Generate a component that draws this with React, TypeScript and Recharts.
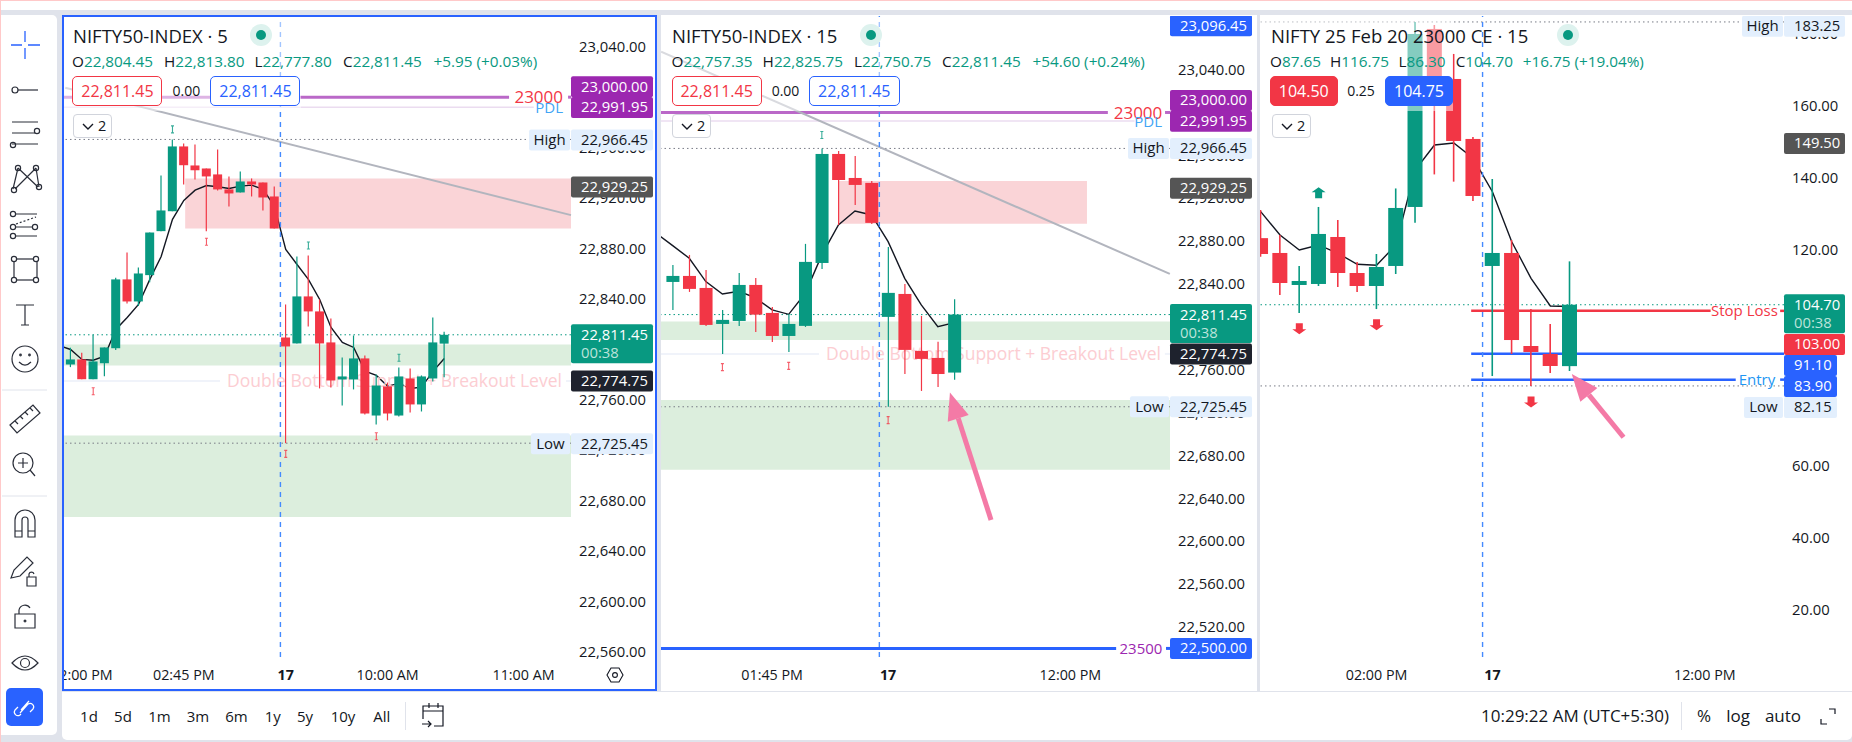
import React from "react";
import {
  ComposedChart,
  Bar,
  Line,
  XAxis,
  YAxis,
  ReferenceLine,
  ReferenceArea,
  ReferenceDot,
} from "recharts";

const FONT = '"Open Sans", sans-serif';
const UP = "#089981";
const DOWN = "#F23645";
const INK = "#131722";
const BLUE = "#2962FF";

// 5 min index chart
const idxOpen5 = [22787.9, 22791.9, 22776.2, 22788.9, 22800.8, 22855.4, 22837.9, 22858.8, 22893.7, 22909.5, 22960.9, 22945.8, 22943.4, 22938.7, 22926.8, 22924.4, 22933.1, 22932.3, 22921.2, 22809.3, 22804.6, 22841.9, 22830, 22805.4, 22776, 22776, 22792.7, 22747.4, 22770.5, 22747.4, 22776.8, 22756.2, 22776.8, 22804.45];
const idxHigh5 = [22801.2, 22797.2, 22811.5, 22801.4, 22856.7, 22876.8, 22864.9, 22892.6, 22937.9, 22966.45, 22963.2, 22962.5, 22943.4, 22958.5, 22937.1, 22941, 22935.5, 22932.3, 22929.1, 22835.5, 22873.6, 22874.4, 22839.5, 22824.4, 22793.5, 22810.9, 22795.1, 22780, 22773.6, 22785.5, 22784.7, 22779.2, 22825.2, 22813.8];
const idxLow5 = [22785.8, 22776.2, 22776.2, 22778.6, 22799.3, 22836.3, 22834.2, 22853.2, 22893.7, 22909.5, 22930.7, 22934.7, 22893.7, 22926, 22913.3, 22924.4, 22921.2, 22910.1, 22895.8, 22725.45, 22804.6, 22818.1, 22768.9, 22769.7, 22755.4, 22768.1, 22748.2, 22740.3, 22743.5, 22746.6, 22749.8, 22750.6, 22774.4, 22777.8];
const idxClose5 = [22791.9, 22776.2, 22790.3, 22801.4, 22855.4, 22837.9, 22860.1, 22892.6, 22910.1, 22960.9, 22946, 22942, 22937.1, 22926.8, 22923.6, 22933.1, 22930.7, 22920.4, 22895.8, 22802.2, 22841.9, 22830, 22804.6, 22775.2, 22778.4, 22792.7, 22749, 22771.2, 22749, 22778.4, 22756.2, 22778.4, 22805.4, 22811.45];
const idxEma5 = [22799.8, 22791.9, 22791.3, 22794.5, 22815.7, 22825.2, 22835.5, 22855.4, 22873.6, 22903, 22918, 22926.2, 22929.9, 22928.9, 22927.5, 22929.4, 22930.2, 22926.8, 22913.5, 22879.2, 22867.2, 22855.4, 22839.5, 22817.3, 22805.4, 22801.4, 22782.6, 22779.2, 22770.7, 22772.8, 22768.9, 22769.9, 22782.4, 22792.7];
const idxEmaLead5 = 22803;
const idxHighMarks5 = [[9, 22974.4], [21, 22882.3], [29, 22793.2]];
const idxLowMarks5 = [[2, 22766.7], [12, 22885.3], [19, 22717], [27, 22731]];

// 15 min index chart
const idxOpen15 = [22841.9, 22847.5, 22836.3, 22802.7, 22805.5, 22839.1, 22813, 22791.5, 22800.9, 22859.6, 22961.3, 22938.9, 22934.3, 22809.3, 22830.7, 22777.5, 22771, 22757.35];
const idxHigh15 = [22857.8, 22867.1, 22853.1, 22815.8, 22850.3, 22845.6, 22818.6, 22812.1, 22877.4, 22966.45, 22964.1, 22959.5, 22936.1, 22874.6, 22840, 22810.2, 22786, 22825.75];
const idxLow15 = [22815.8, 22832.6, 22800.9, 22774.7, 22800.9, 22795.3, 22785.9, 22776.6, 22799.9, 22854, 22895.1, 22913.7, 22896, 22725.45, 22756, 22740.2, 22744, 22750.75];
const idxClose15 = [22847.5, 22835.4, 22801.8, 22806.5, 22839.1, 22811.4, 22791.5, 22802.7, 22860.6, 22961.3, 22937, 22932.4, 22897, 22831.7, 22778.5, 22770.1, 22756, 22811.45];
const idxEma15 = [22875.8, 22864, 22842.2, 22830.7, 22833.2, 22827, 22815.8, 22811.7, 22831.3, 22867.1, 22895.1, 22908.1, 22904.4, 22879.5, 22845.3, 22820.5, 22800.2, 22804];
const idxEmaLead15 = 22887.3;
const idxHighMarks15 = [[9, 22979]];
const idxLowMarks15 = [[3, 22762.4], [7, 22763.6], [13, 22713]];

// 15 min option chart
const optOpen = [123.2, 119.08, 110.19, 110.47, 123.52, 113.52, 109.91, 115.47, 131.86, 181.3, 167.41, 150.75, 115.47, 119.08, 93.24, 91.02, 87.65];
const optHigh = [131, 124.08, 115.47, 131.86, 128.24, 116.58, 118.8, 137, 183.25, 182.4, 174.36, 151.3, 139.63, 122.69, 103.52, 99.36, 116.75];
const optLow = [118, 107.4, 102.4, 109.91, 109.63, 108.24, 103.5, 113.24, 127.5, 140.9, 138.89, 133.5, 84.9, 91.02, 82.15, 85.74, 86.3];
const optClose = [118.8, 110.74, 111.3, 124.36, 113.52, 109.91, 115.19, 131.58, 179.91, 161.6, 150.19, 134.91, 119.08, 94.9, 91.58, 87.69, 104.7];
const optEma = [130.56, 124.08, 119.91, 121.3, 118.99, 115.93, 115.65, 121.3, 142.1, 149.08, 149.64, 145.37, 136.1, 122.2, 112.04, 104.36, 104.2];
const optUpArrows = [[3, 135.7]];
const optDownArrows = [[2, 98.2], [6, 99.3], [14, 77.8]];

const ticks5 = [22560, 22600, 22640, 22680, 22720, 22760, 22800, 22840, 22880, 22920, 22960, 23000, 23040];
const ticks15 = [22520, 22560, 22600, 22640, 22680, 22720, 22760, 22800, 22840, 22880, 22920, 22960, 23000, 23040];
const ticksOpt = [20, 40, 60, 80, 100, 120, 140, 160, 180];

const timeTicks5 = { 1: "02:00 PM", 10: "02:45 PM", 19: "17", 28: "10:00 AM", 40: "11:00 AM" };
const timeTicks15 = { 6: "01:45 PM", 13: "17", 24: "12:00 PM" };
const timeTicksOpt = { 6: "02:00 PM", 12: "17", 23: "12:00 PM" };

const rangeButtons = ["1d", "5d", "1m", "3m", "6m", "1y", "5y", "10y", "All"];

const buildRows = (o, h, l, c, ema, lead, hiMarks, loMarks) => {
  const rows: any[] = [];
  if (lead != null) rows.push({ i: -1, ema: lead });
  o.forEach((_, i) => {
    const hi = hiMarks.find((m) => m[0] === i);
    const lo = loMarks.find((m) => m[0] === i);
    rows.push({
      i,
      open: o[i],
      high: h[i],
      low: l[i],
      close: c[i],
      ema: ema[i],
      markHi: hi ? hi[1] : null,
      markLo: lo ? lo[1] : null,
    });
  });
  return rows;
};

const rows5 = buildRows(idxOpen5, idxHigh5, idxLow5, idxClose5, idxEma5, idxEmaLead5, idxHighMarks5, idxLowMarks5);
const rows15 = buildRows(idxOpen15, idxHigh15, idxLow15, idxClose15, idxEma15, idxEmaLead15, idxHighMarks15, idxLowMarks15);
const rowsOpt = buildRows(optOpen, optHigh, optLow, optClose, optEma, null, optUpArrows, optDownArrows);

const price = (v: number) =>
  v.toLocaleString("en-US", { minimumFractionDigits: 2, maximumFractionDigits: 2 });

const Candle = (props: any) => {
  const { x, y, width, height, payload, wick } = props;
  if (payload.low == null) return null;
  const h = Math.abs(height);
  const k = h / (payload.high - payload.low);
  const top = y + (payload.high - Math.max(payload.open, payload.close)) * k;
  const bottom = y + (payload.high - Math.min(payload.open, payload.close)) * k;
  const up = payload.close >= payload.open;
  const color = up ? UP : DOWN;
  const cx = x + width / 2;
  return (
    <g>
      <line x1={cx} x2={cx} y1={y} y2={y + h} stroke={color} strokeWidth={wick} />
      <rect x={x} y={top} width={width} height={Math.max(bottom - top, 1)} fill={color} />
    </g>
  );
};

const IMark = (color: string) => (p: any) => {
  if (p.value == null || p.cy == null) return <g key={p.index} />;
  return (
    <path
      key={p.index}
      d={`M${p.cx - 1.5} ${p.cy - 3.5}h3M${p.cx} ${p.cy - 3.5}v7M${p.cx - 1.5} ${p.cy + 3.5}h3`}
      stroke={color}
      strokeWidth={1.1}
      fill="none"
      opacity={0.8}
    />
  );
};

const ArrowMark = (color: string, up: boolean) => (p: any) => {
  if (p.value == null || p.cy == null) return <g key={p.index} />;
  const s = up ? -1 : 1;
  const { cx, cy } = p;
  return (
    <path
      key={p.index}
      d={`M${cx - 3.5} ${cy - 5 * s}h7v${6 * s}h3.5l-7 ${5 * s}l-7 ${-5 * s}h3.5z`}
      fill={color}
    />
  );
};

const PinkArrow = (p: any) => {
  const { x1, y1, x2, y2 } = p;
  const d = Math.hypot(x2 - x1, y2 - y1);
  const ux = (x2 - x1) / d;
  const uy = (y2 - y1) / d;
  const bx = x2 - ux * 27;
  const by = y2 - uy * 27;
  return (
    <g>
      <line x1={x1} y1={y1} x2={bx} y2={by} stroke="#F47AA6" strokeWidth={5} />
      <path
        d={`M${x2} ${y2}L${bx - uy * 11} ${by + ux * 11}L${bx + uy * 11} ${by - ux * 11}Z`}
        fill="#F47AA6"
      />
    </g>
  );
};

const badge = (o: any) => (p: any) => {
  const vb = p.viewBox;
  const bx = vb.x + vb.width;
  const h = o.h ?? 21;
  const y = vb.y;
  const w = o.w ?? 82;
  return (
    <g>
      {o.tag && (
        <g>
          <rect x={bx - o.tagW - 1} y={y - h / 2} width={o.tagW} height={h} rx={2} fill="#E3EFFD" />
          <text x={bx - 1 - o.tagW / 2} y={y + 5} textAnchor="middle" fontSize={15} fill={INK}>
            {o.tag}
          </text>
        </g>
      )}
      <rect x={bx} y={y - h / 2} width={w} height={o.sub ? 39 : h} rx={2} fill={o.bg} />
      <text x={bx + 10} y={y + 5} fontSize={14.8} fill={o.fg ?? "#fff"}>
        {o.text}
      </text>
      {o.sub && (
        <text x={bx + 10} y={y + 23} fontSize={14.8} fill="#BCE3DB">
          {o.sub}
        </text>
      )}
    </g>
  );
};

const XTick = (labels: any) => (p: any) => {
  const label = labels[p.payload.value];
  return (
    <text
      x={p.x}
      y={p.y}
      dy={15}
      textAnchor="middle"
      fontSize={14.3}
      fontWeight={label === "17" ? 700 : 400}
      fill={INK}
    >
      {label}
    </text>
  );
};

const levelSeg = (key: string, a: number, b: number, v: number, stroke: string, w: number) => (
  <ReferenceLine
    key={key}
    segment={[{ x: a, y: v }, { x: b, y: v }]}
    stroke={stroke}
    strokeWidth={w}
    ifOverflow="visible"
  />
);

const tag = (key: string, x: number, y: number, text: string, fill: string, size: number) => (
  <ReferenceDot
    key={key}
    x={x}
    y={y}
    r={0}
    fill="none"
    stroke="none"
    ifOverflow="visible"
    label={{ value: text, position: "center", fill, fontSize: size }}
  />
);

const dotted = (key: string, v: number, stroke: string) => (
  <ReferenceLine key={key} y={v} stroke={stroke} strokeDasharray="1.5 3" strokeWidth={1} ifOverflow="visible" />
);

const badgeAt = (key: string, v: number, o: any) => (
  <ReferenceLine key={key} y={v} stroke="none" ifOverflow="visible" label={badge(o)} />
);

// two stacked charts on the same scales: axes, zones and EMA below; candles, marks and price badges above,
// because recharts paints axis ticks over anything in the same chart and the badges must hide them
function Pane(props: any) {
  const { left, top, width, height, axisW, xDomain, yDomain, yTicks, timeTicks, rows, barW, wick, under, over, hiMark, loMark } = props;
  const xTicks = Object.keys(timeTicks).map(Number);
  return (
    <div style={{ position: "absolute", left, top, width, height }}>
      <div style={{ position: "absolute", left: 0, top: 0 }}>
        <ComposedChart
          width={width}
          height={height}
          data={rows}
          margin={{ top: 0, right: 0, bottom: 0, left: 0 }}
          style={{ fontFamily: FONT }}
        >
          <XAxis
            dataKey="i"
            type="number"
            domain={xDomain}
            allowDataOverflow
            ticks={xTicks}
            interval={0}
            height={33}
            axisLine={false}
            tickLine={false}
            tick={XTick(timeTicks)}
          />
          <YAxis
            orientation="right"
            width={axisW}
            type="number"
            domain={yDomain}
            allowDataOverflow
            ticks={yTicks}
            interval={0}
            axisLine={false}
            tickLine={false}
            tickMargin={2}
            tickFormatter={price}
            tick={{ fill: INK, fontSize: 14.8 }}
          />
          {under}
          <Line dataKey="ema" stroke="#131722" strokeWidth={1.4} dot={false} activeDot={false} isAnimationActive={false} />
        </ComposedChart>
      </div>
      <div style={{ position: "absolute", left: 0, top: 0 }}>
        <ComposedChart
          width={width}
          height={height}
          data={rows}
          margin={{ top: 0, right: axisW, bottom: 33, left: 0 }}
          style={{ fontFamily: FONT }}
        >
          <XAxis dataKey="i" type="number" domain={xDomain} allowDataOverflow ticks={xTicks} interval={0} hide />
          <YAxis type="number" domain={yDomain} allowDataOverflow ticks={yTicks} interval={0} hide />
          <Bar
            dataKey={(r: any) => (r.low == null ? null : [r.low, r.high])}
            barSize={barW}
            isAnimationActive={false}
            shape={(p: any) => <Candle {...p} wick={wick} />}
          />
          <Line dataKey="markHi" stroke="none" dot={hiMark} activeDot={false} isAnimationActive={false} />
          <Line dataKey="markLo" stroke="none" dot={loMark} activeDot={false} isAnimationActive={false} />
          {over}
        </ComposedChart>
      </div>
    </div>
  );
}

const at = (left: number, top: number, style: any = {}) => ({ position: "absolute", left, top, whiteSpace: "nowrap", ...style } as any);

function Header(props: any) {
  const { title, titleX, dotX, ohlc, delta, red, mid, midX, blue, solid, countX, veil } = props;
  const row = 51;
  return (
    <>
      <div style={at(veil[0], 17, { width: veil[1] - veil[0], height: 94, background: "rgba(255,255,255,0.5)" })} />
      <div style={at(titleX, 22, { fontSize: 18.5, color: INK, lineHeight: "28px" })}>{title}</div>
      <div style={at(dotX - 11, 24, { width: 22, height: 22, borderRadius: 11, background: "#DDF2EE" })} />
      <div style={at(dotX - 5, 30, { width: 10, height: 10, borderRadius: 5, background: UP })} />
      {ohlc.map((o: any) => (
        <div key={o[0]} style={at(o[2], row, { fontSize: 15.3, lineHeight: "20px", color: INK })}>
          {o[0]}
          <span style={{ color: UP }}>{o[1]}</span>
        </div>
      ))}
      <div style={at(delta[1], row, { fontSize: 15.3, lineHeight: "20px", color: UP })}>{delta[0]}</div>
      <div
        style={at(red[1], 76, {
          width: red[2] - red[1], height: 30, boxSizing: "border-box", borderRadius: 5,
          border: `1px solid ${DOWN}`, background: solid ? DOWN : "#fff", color: solid ? "#fff" : DOWN,
          textAlign: "center", lineHeight: "28px", fontSize: 16,
        })}
      >
        {red[0]}
      </div>
      <div style={at(midX - 25, 76, { width: 50, textAlign: "center", lineHeight: "30px", fontSize: 14, color: INK })}>{mid}</div>
      <div
        style={at(blue[1], 76, {
          width: blue[2] - blue[1], height: 30, boxSizing: "border-box", borderRadius: 5,
          border: `1px solid ${BLUE}`, background: solid ? BLUE : "#fff", color: solid ? "#fff" : BLUE,
          textAlign: "center", lineHeight: "28px", fontSize: 16,
        })}
      >
        {blue[0]}
      </div>
      <div
        style={at(countX, 114, {
          width: 39, height: 24, boxSizing: "border-box", borderRadius: 4, border: "1px solid #D1D4DC",
          background: "#fff", fontSize: 14.5, lineHeight: "22px", color: INK,
        })}
      >
        <svg width="12" height="8" style={{ position: "absolute", left: 8, top: 8 }}>
          <path d="M1 1l5 5l5-5" stroke={INK} fill="none" strokeWidth="1.4" />
        </svg>
        <span style={{ position: "absolute", left: 24 }}>2</span>
      </div>
    </>
  );
}

const ic = { stroke: "#2A2E39", strokeWidth: 1.2, fill: "none" };

function Toolbar() {
  return (
    <div style={at(0, 15, { width: 57, height: 720, background: "#fff", borderRadius: "0 5px 5px 0" })}>
      <svg width="57" height="720" style={{ position: "absolute", left: 0, top: 0 }}>
        <g transform="translate(0,-15)">
          <path d="M25 31v11M25 48v11M11 45h11M28 45h12" stroke={BLUE} strokeWidth="1.3" />
          <g {...ic}>
            <circle cx="15" cy="90" r="3" />
            <path d="M18 90h20" />
            <path d="M12 122h26M12 133h23M12 144h26M15 155" />
            <circle cx="37" cy="131" r="2.6" />
            <circle cx="13" cy="145" r="2.6" />
            <path d="M18 168l-5 21M18 168l20 19M36 168l-21 21M36 168l3 19" />
            <circle cx="18" cy="168" r="2.6" />
            <circle cx="36" cy="168" r="2.6" />
            <circle cx="14" cy="190" r="2.6" />
            <circle cx="39" cy="187" r="2.6" />
            <circle cx="13" cy="214" r="2.6" />
            <circle cx="13" cy="227" r="2.6" />
            <circle cx="13" cy="236" r="2.6" />
            <circle cx="35" cy="227" r="2.6" />
            <path d="M16 214h21M16 227h16M16 236h21" />
            <path d="M16 224l20-7" strokeDasharray="2 2" />
            <rect x="14" y="259" width="23" height="21" />
            <circle cx="14" cy="259" r="2.6" fill="#fff" />
            <circle cx="36" cy="259" r="2.6" fill="#fff" />
            <circle cx="14" cy="280" r="2.6" fill="#fff" />
            <circle cx="36" cy="280" r="2.6" fill="#fff" />
            <path d="M16 305h18M25 305v20M21 325h8" />
            <circle cx="25" cy="359" r="13" />
            <path d="M19 362q6 6 12 0" />
            <circle cx="20.5" cy="355" r="0.8" />
            <circle cx="29.5" cy="355" r="0.8" />
            <path d="M10 425l23-20l7 8l-23 20zM15 421l3 3M20 416l3 3M25 412l3 3M30 408l3 3" />
            <circle cx="23" cy="463" r="10" />
            <path d="M23 458v10M18 463h10M30 470l5 6" />
            <path d="M15 537v-17a10 10 0 0 1 20 0v17h-7v-17a3 3 0 0 0-6 0v17zM15 531h7M28 531h7" />
            <path d="M11 578l3-8l13-13l6 6l-13 13zM27 577h9v9h-9zM29 577v-3a2.6 2.6 0 0 1 5 0" />
            <path d="M15 614h20v14h-20zM19 614v-4a6 6 0 0 1 11-2" />
            <circle cx="25" cy="621" r="0.9" />
            <path d="M12 663q13-14 26 0q-13 14-26 0z" />
            <circle cx="25" cy="663" r="4.5" />
          </g>
          <path d="M2 390h45M2 496h45" stroke="#E0E3EB" />
          <rect x="6" y="688" width="37" height="38" rx="5" fill={BLUE} />
          <path d="M20 713l8-9a3.6 3.6 0 0 1 5 5l-3 3M29 701l-8 9" stroke="#fff" strokeWidth="1.2" fill="none" />
          <path d="M18 707l-3 3a3.6 3.6 0 0 0 5 5l1-1" stroke="#fff" strokeWidth="1.2" fill="none" />
        </g>
      </svg>
    </div>
  );
}

function BottomBar() {
  const xs = [89, 123, 159.5, 198, 236.5, 272.7, 305, 343, 381.7];
  const txt = { fontSize: 15, color: INK, lineHeight: "20px" };
  const big = { fontSize: 17, color: INK, lineHeight: "20px" };
  return (
    <>
      <div style={at(62, 692, { width: 1790, height: 48, background: "#fff", borderRadius: "0 0 5px 5px" })} />
      {rangeButtons.map((b, i) => (
        <div key={b} style={at(xs[i] - 20, 706, { ...txt, width: 40, textAlign: "center" })}>
          {b}
        </div>
      ))}
      <div style={at(405, 702, { width: 1, height: 28, background: "#E0E3EB" })} />
      <svg width="30" height="30" style={at(420, 701)}>
        <path d="M3 18v-13h20v20h-9M3 10h20M9 2v5M18 2v5M2 23h9M8 20l3 3l-3 3" stroke={INK} fill="none" strokeWidth="1.2" />
      </svg>
      <div style={at(1575 - 110, 706, { ...big, width: 220, textAlign: "center" })}>10:29:22 AM (UTC+5:30)</div>
      <div style={at(1681, 702, { width: 1, height: 28, background: "#E0E3EB" })} />
      <div style={at(1689, 706, { ...big, width: 30, textAlign: "center" })}>%</div>
      <div style={at(1723, 706, { ...big, width: 30, textAlign: "center" })}>log</div>
      <div style={at(1763, 706, { ...big, width: 40, textAlign: "center" })}>auto</div>
      <svg width="20" height="20" style={at(1817, 706)}>
        <path d="M4 13v5h6M12 3h6v5" stroke={INK} fill="none" strokeWidth="1.2" />
      </svg>
    </>
  );
}

const doubleBottom = "Double Bottom Support + Breakout Level";

export default function App() {
  const x5 = [-0.58, 44.19];
  const x15 = [-0.706, 30.01];
  const xOpt = [-0.036, 27.1];

  const under5 = [
    <ReferenceArea key="a" x1={10.12} x2={44.19} y1={22935.5} y2={22895.8} fill="#FAD4D7" fillOpacity={1} stroke="none" ifOverflow="visible" />,
    <ReferenceArea key="b" x1={-0.58} x2={44.19} y1={22803.8} y2={22787.1} fill="#DCEEDD" fillOpacity={1} stroke="none" ifOverflow="visible" />,
    <ReferenceArea key="c" x1={-0.58} x2={44.19} y1={22731.6} y2={22666.8} fill="#DCEEDD" fillOpacity={1} stroke="none" ifOverflow="visible" />,
    levelSeg("d", -0.58, 38.72, 23000, "#BA68C8", 3),
    levelSeg("e", 43.93, 44.19, 23000, "#BA68C8", 3),
    levelSeg("f", -0.58, 40.9, 22991.95, "#EBDCF0", 1.5),
    levelSeg("g", -0.58, 13.2, 22774.75, "#F0F3FA", 2),
    levelSeg("h", 43.75, 44.19, 22774.75, "#F0F3FA", 2),
    tag("i", 28.6, 22774.75, doubleBottom, "#FCCDD2", 17.5),
    dotted("j", 22966.45, "#787B86"),
    dotted("k", 22725.45, "#787B86"),
    dotted("l", 22811.45, UP),
    <ReferenceLine key="m" segment={[{ x: -0.47, y: 23007.4 }, { x: 44.19, y: 22906.4 }]} stroke="#B2B5BE" strokeWidth={2} ifOverflow="visible" />,
  ];
  const over5 = [
    <ReferenceLine key="n" x={18.53} stroke="#448AFF" strokeWidth={1.4} strokeDasharray="5 5" ifOverflow="visible" />,
    tag("o", 41.34, 23000, "23000", DOWN, 17),
    tag("p", 42.26, 22991.6, "PDL", "#42A5F5", 15),
    badgeAt("q", 23008.2, { text: "23,000.00", bg: "#9C27B0" }),
    badgeAt("r", 22991.8, { text: "22,991.95", bg: "#9C27B0" }),
    badgeAt("s", 22966.0, { text: "22,966.45", bg: "#E3EFFD", fg: INK, tag: "High", tagW: 41 }),
    badgeAt("t", 22928.7, { text: "22,929.25", bg: "#555555" }),
    badgeAt("u", 22811.45, { text: "22,811.45", sub: "00:38", bg: UP }),
    badgeAt("v", 22774.75, { text: "22,774.75", bg: "#1E222D" }),
    badgeAt("w", 22725.0, { text: "22,725.45", bg: "#E3EFFD", fg: INK, tag: "Low", tagW: 39 }),
  ];

  const under15 = [
    <ReferenceArea key="a" x1={10.04} x2={25} y1={22936.1} y2={22896.3} fill="#FAD4D7" fillOpacity={1} stroke="none" ifOverflow="visible" />,
    <ReferenceArea key="b" x1={-0.706} x2={30.01} y1={22804.9} y2={22787.8} fill="#DCEEDD" fillOpacity={1} stroke="none" ifOverflow="visible" />,
    <ReferenceArea key="c" x1={-0.706} x2={30.01} y1={22731.8} y2={22666.8} fill="#DCEEDD" fillOpacity={1} stroke="none" ifOverflow="visible" />,
    levelSeg("d", -0.706, 26.26, 23000, "#BA68C8", 3),
    levelSeg("e", 29.71, 30.01, 23000, "#BA68C8", 3),
    levelSeg("f", -0.706, 27.87, 22991.95, "#EBDCF0", 1.5),
    levelSeg("g", -0.706, 8.83, 22774.75, "#F0F3FA", 2),
    levelSeg("h", 29.7, 30.01, 22774.75, "#F0F3FA", 2),
    levelSeg("i", -0.706, 26.76, 22500, BLUE, 3),
    levelSeg("j", 29.77, 30.01, 22500, BLUE, 3),
    tag("k", 19.36, 22774.75, doubleBottom, "#FCCDD2", 17.5),
    dotted("l", 22966.45, "#787B86"),
    dotted("m", 22725.45, "#787B86"),
    dotted("n", 22811.45, UP),
    <ReferenceLine key="o" segment={[{ x: -0.7, y: 23056.8 }, { x: 30, y: 22849.4 }]} stroke="#B2B5BE" strokeWidth={2} ifOverflow="visible" />,
  ];
  const over15 = [
    <ReferenceLine key="p" x={12.47} stroke="#448AFF" strokeWidth={1.4} strokeDasharray="5 5" ifOverflow="visible" />,
    tag("q", 28.08, 23000, "23000", DOWN, 17),
    tag("r", 28.69, 22991.6, "PDL", "#42A5F5", 15),
    tag("s", 28.26, 22500, "23500", "#9C27B0", 15),
    <ReferenceLine key="t" segment={[{ x: 19.21, y: 22619.9 }, { x: 16.73, y: 22738.7 }]} ifOverflow="visible" shape={PinkArrow} />,
    badgeAt("u", 23081, { text: "23,096.45", bg: BLUE }),
    badgeAt("v", 23011.2, { text: "23,000.00", bg: "#9C27B0" }),
    badgeAt("w", 22991.7, { text: "22,991.95", bg: "#9C27B0" }),
    badgeAt("x", 22966.45, { text: "22,966.45", bg: "#E3EFFD", fg: INK, tag: "High", tagW: 41 }),
    badgeAt("y", 22929.25, { text: "22,929.25", bg: "#555555" }),
    badgeAt("z", 22811.45, { text: "22,811.45", sub: "00:38", bg: UP }),
    badgeAt("aa", 22774.75, { text: "22,774.75", bg: "#1E222D" }),
    badgeAt("ab", 22725.45, { text: "22,725.45", bg: "#E3EFFD", fg: INK, tag: "Low", tagW: 39 }),
    badgeAt("ac", 22500, { text: "22,500.00", bg: BLUE }),
  ];

  const underOpt = [
    levelSeg("a", 10.9, 23.3, 103, DOWN, 2.5),
    levelSeg("b", 26.9, 27.1, 103, DOWN, 2.5),
    levelSeg("c", 10.9, 27.1, 91.1, BLUE, 2.5),
    levelSeg("d", 10.9, 24.6, 83.9, BLUE, 2.5),
    levelSeg("e", 26.9, 27.1, 83.9, BLUE, 2.5),
    dotted("f", 183.25, "#787B86"),
    dotted("g", 82.15, "#787B86"),
    dotted("h", 104.7, UP),
  ];
  const overOpt = [
    <ReferenceLine key="i" x={11.49} stroke="#448AFF" strokeWidth={1.4} strokeDasharray="5 5" ifOverflow="visible" />,
    tag("j", 25.05, 103, "Stop Loss", DOWN, 15),
    tag("k", 25.7, 83.9, "Entry", "#2196F3", 15),
    <ReferenceLine key="l" segment={[{ x: 18.79, y: 67.89 }, { x: 16.11, y: 85.47 }]} ifOverflow="visible" shape={PinkArrow} />,
    badgeAt("m", 182.05, { text: "183.25", bg: "#E3EFFD", fg: INK, w: 61, tag: "High", tagW: 41 }),
    badgeAt("n", 149.5, { text: "149.50", bg: "#555555", w: 61 }),
    badgeAt("o", 104.7, { text: "104.70", sub: "00:38", bg: UP, w: 61 }),
    badgeAt("p", 93.67, { text: "103.00", bg: DOWN, w: 61 }),
    badgeAt("q", 87.83, { text: "91.10", bg: BLUE, w: 53 }),
    badgeAt("r", 82, { text: "83.90", bg: BLUE, w: 53 }),
    badgeAt("s", 76.17, { text: "82.15", bg: "#E3EFFD", fg: INK, w: 53, tag: "Low", tagW: 39 }),
  ];

  return (
    <div
      style={{
        position: "fixed", left: 0, top: 0, width: 1852, height: 742, overflow: "hidden",
        background: "#E0E3EB", fontFamily: FONT,
        borderTop: "1px solid #FFC9C9", borderLeft: "1px solid #FFC9C9", boxSizing: "border-box",
      }}
    >
      <div style={{ position: "absolute", left: -1, top: -1, width: 1853, height: 743 }}>
        <div style={at(0, 1, { width: 1852, height: 9, background: "#fff" })} />
        <Toolbar />
        <div style={at(62, 15, { width: 595, height: 676, background: "#fff" })} />
        <div style={at(661, 15, { width: 596, height: 676, background: "#fff" })} />
        <div style={at(1260, 15, { width: 592, height: 676, background: "#fff" })} />

        <Pane left={64} top={17} width={591} height={673} axisW={84} xDomain={x5} yDomain={[22555.8, 23063.6]} yTicks={ticks5}
          timeTicks={timeTicks5} rows={rows5} barW={9} wick={1.2} under={under5} over={over5}
          hiMark={IMark(UP)} loMark={IMark(DOWN)} />
        <Pane left={661} top={16} width={591} height={674} axisW={82} xDomain={x15} yDomain={[22492, 23090]} yTicks={ticks15}
          timeTicks={timeTicks15} rows={rows15} barW={13} wick={1.2} under={under15} over={over15}
          hiMark={IMark(UP)} loMark={IMark(DOWN)} />
        <Pane left={1260} top={16} width={585} height={674} axisW={61} xDomain={xOpt} yDomain={[6.86, 184.9]} yTicks={ticksOpt}
          timeTicks={timeTicksOpt} rows={rowsOpt} barW={15} wick={1.6} under={underOpt} over={overOpt}
          hiMark={ArrowMark(UP, true)} loMark={ArrowMark(DOWN, false)} />

        <div style={at(62, 14.5, { width: 595, height: 676, boxSizing: "border-box", border: `2.5px solid ${BLUE}` })} />

        <Header title="NIFTY50-INDEX · 5" titleX={73} dotX={261} veil={[64, 301]}
          ohlc={[["O", "22,804.45", 72], ["H", "22,813.80", 164], ["L", "22,777.80", 254.6], ["C", "22,811.45", 343]]}
          delta={["+5.95 (+0.03%)", 433.5]} red={["22,811.45", 72.4, 162.5]} mid="0.00" midX={186.4}
          blue={["22,811.45", 210.4, 300.5]} countX={73} />
        <Header title="NIFTY50-INDEX · 15" titleX={672} dotX={871} veil={[661, 900]}
          ohlc={[["O", "22,757.35", 671.5], ["H", "22,825.75", 762.6], ["L", "22,750.75", 854], ["C", "22,811.45", 942]]}
          delta={["+54.60 (+0.24%)", 1032.4]} red={["22,811.45", 671.5, 761.8]} mid="0.00" midX={785.5}
          blue={["22,811.45", 809, 899.6]} countX={672} />
        <Header title="NIFTY 25 Feb 20 23000 CE · 15" titleX={1271} dotX={1568} veil={[1260, 1453]}
          ohlc={[["O", "87.65", 1270], ["H", "116.75", 1330], ["L", "86.30", 1398.6], ["C", "104.70", 1455.7]]}
          delta={["+16.75 (+19.04%)", 1522.7]} red={["104.50", 1270, 1337.6]} mid="0.25" midX={1361}
          blue={["104.75", 1385, 1453]} countX={1272} solid />

        <svg width="18" height="18" style={at(606, 666)}>
          <path d="M5 2h8l4 7l-4 7h-8l-4-7z" stroke={INK} fill="none" strokeWidth="1.1" />
          <circle cx="9" cy="9" r="2.4" stroke={INK} fill="none" strokeWidth="1.1" />
        </svg>

        <BottomBar />
      </div>
    </div>
  );
}
